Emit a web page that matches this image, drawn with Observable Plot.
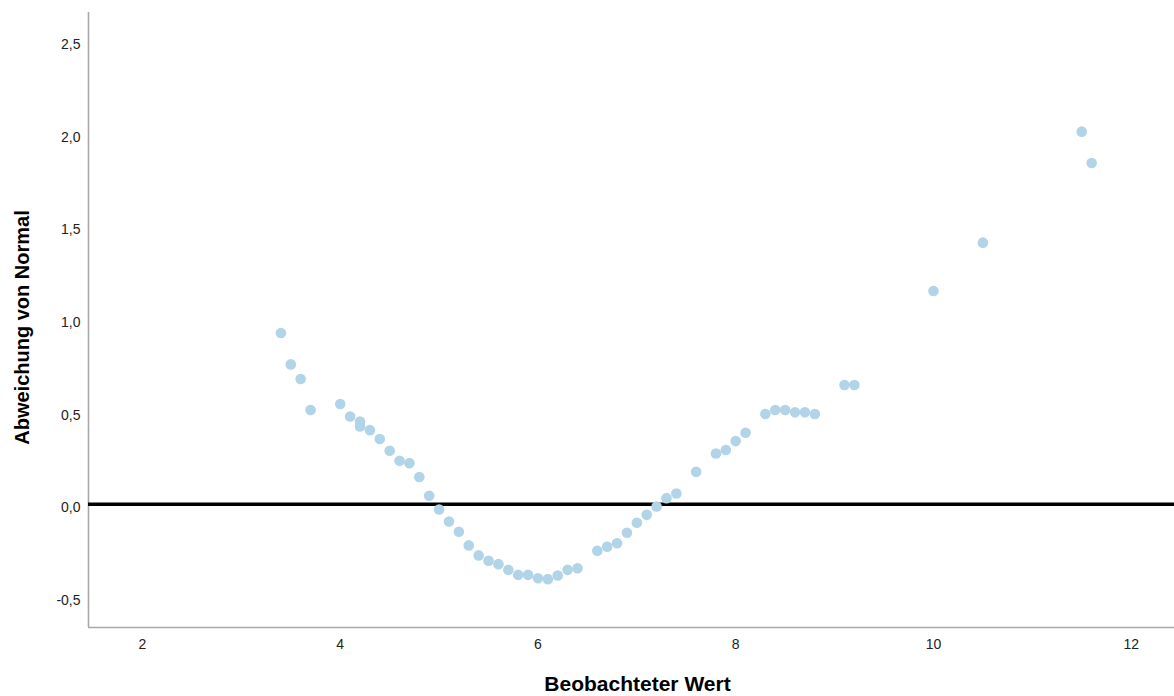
<!DOCTYPE html>
<html>
<head>
<meta charset="utf-8">
<script src="https://cdn.jsdelivr.net/npm/d3@7"></script>
<script src="https://cdn.jsdelivr.net/npm/@observablehq/plot@0.6"></script>
<style>
  html, body { margin: 0; padding: 0; background: #fff; }
  #chart { width: 1174px; height: 696px; }
</style>
</head>
<body>
<div id="chart"></div>
<script>
// Observed values (x) and deviation from normal (y)
const observed = [3.4, 3.5, 3.6, 3.7, 4.0, 4.1, 4.2, 4.2, 4.3, 4.4, 4.5, 4.6, 4.7, 4.8, 4.9, 5.0, 5.1, 5.2, 5.3, 5.4, 5.5, 5.6, 5.7, 5.8, 5.9, 6.0, 6.1, 6.2, 6.3, 6.4, 6.6, 6.7, 6.8, 6.9, 7.0, 7.1, 7.2, 7.3, 7.4, 7.6, 7.8, 7.9, 8.0, 8.1, 8.3, 8.4, 8.5, 8.6, 8.7, 8.8, 9.1, 9.2, 10.0, 10.5, 11.5, 11.6];
const deviation = [0.924, 0.755, 0.676, 0.509, 0.541, 0.474, 0.447, 0.42, 0.40, 0.352, 0.289, 0.235, 0.222, 0.147, 0.046, -0.028, -0.093, -0.148, -0.222, -0.276, -0.305, -0.323, -0.354, -0.381, -0.381, -0.399, -0.404, -0.384, -0.354, -0.345, -0.251, -0.229, -0.21, -0.154, -0.10, -0.057, -0.012, 0.033, 0.058, 0.175, 0.274, 0.293, 0.341, 0.386, 0.487, 0.509, 0.509, 0.496, 0.496, 0.487, 0.644, 0.644, 1.151, 1.412, 2.011, 1.842];
const xTicks = [2, 4, 6, 8, 10, 12];
const yTicks = [-0.5, 0, 0.5, 1.0, 1.5, 2.0, 2.5];
const xTitle = "Beobachteter Wert";
const yTitle = "Abweichung von Normal";

const points = observed.map((x, i) => ({x, y: deviation[i]}));
const xDomain = [1.454, 12.438];
const yDomain = [-0.665, 2.654];
const fmt = d => d.toFixed(1).replace(".", ",");

const chart = Plot.plot({
  width: 1174,
  height: 696,
  marginLeft: 88,
  marginRight: 0,
  marginTop: 12,
  marginBottom: 69,
  style: {fontFamily: "Arial, 'Liberation Sans', sans-serif", background: "#fff", overflow: "visible"},
  x: {domain: xDomain},
  y: {domain: yDomain},
  marks: [
    Plot.axisX({ticks: xTicks, tickSize: 0, tickPadding: 12, fontSize: 14, fill: "#222", label: null, tickFormat: d => String(d)}),
    Plot.axisY({ticks: yTicks, tickSize: 0, tickPadding: 8, fontSize: 14, fill: "#222", label: null, tickFormat: fmt, dy: 3.5}),
    Plot.ruleX([xDomain[0]], {stroke: "#a8a8a8", strokeWidth: 1.6}),
    Plot.ruleY([yDomain[0]], {stroke: "#a8a8a8", strokeWidth: 1.6}),
    Plot.ruleY([0], {stroke: "#000", strokeWidth: 3.5}),
    Plot.dot(points, {x: "x", y: "y", r: 5.3, fill: "#b2d4e8", stroke: "none"}),
    Plot.text([xTitle], {frameAnchor: "bottom", dy: 57, dx: 6, fontSize: 21, fontWeight: "bold", fill: "#000", lineAnchor: "middle", textAnchor: "middle"}),
    Plot.text([yTitle], {frameAnchor: "left", dx: -66, dy: 7.5, rotate: -90, fontSize: 20, fontWeight: "bold", fill: "#000", lineAnchor: "middle", textAnchor: "middle"})
  ]
});
document.getElementById("chart").appendChild(chart);
</script>
</body>
</html>
